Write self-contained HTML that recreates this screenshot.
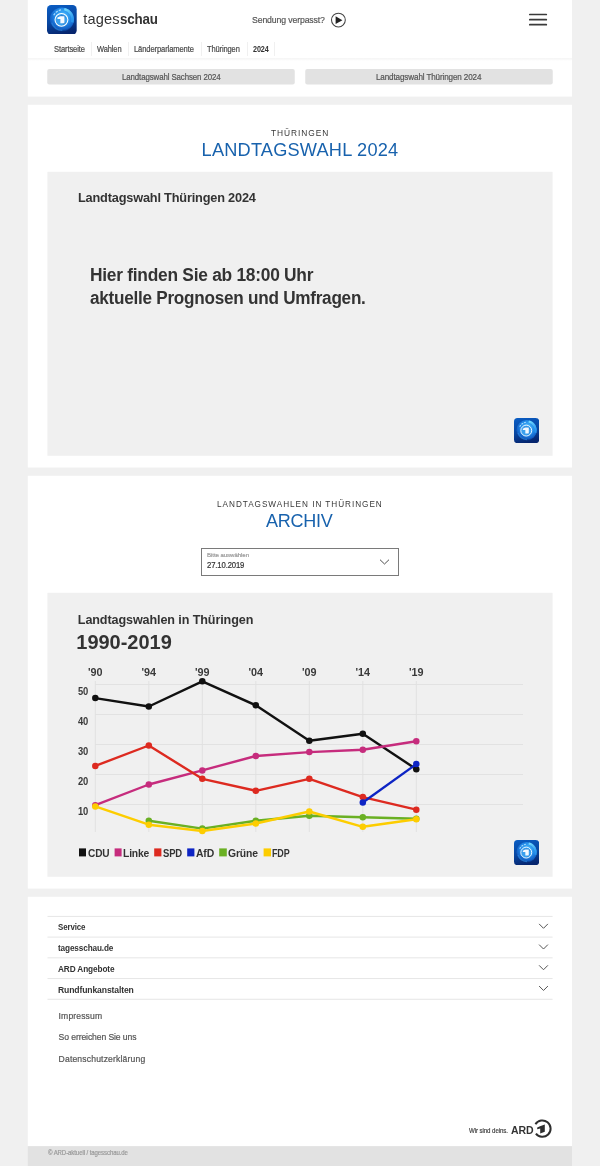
<!DOCTYPE html>
<html><head><meta charset="utf-8"><style>
*{margin:0;padding:0}
html,body{width:600px;height:1166px;overflow:hidden;background:#f0f0f0;font-family:"Liberation Sans",sans-serif}
.card{position:absolute;left:28px;width:544px;background:#fff}
.btn{position:absolute;top:69px;width:247.5px;height:15.6px;background:#e2e2e2;border-radius:2px}
.box{position:absolute;left:47.5px;width:505.1px;height:284px;background:#f0f0f0}
.t{position:absolute;white-space:nowrap;line-height:20px;transform-origin:0 0;font-family:"Liberation Sans",sans-serif}
.t.r{-webkit-text-stroke:0.2px currentColor}
.t i{display:inline-block;width:0;height:0;vertical-align:baseline}
</style></head><body>
<svg style="position:absolute;left:0;top:0" width="600" height="1166" viewBox="0 0 600 1166"><rect x="27.8" y="-1" width="544.2" height="97.6" fill="#fff"/><rect x="27.8" y="104.8" width="544.2" height="362.7" fill="#fff"/><rect x="27.8" y="475.8" width="544.2" height="412.8" fill="#fff"/><rect x="27.8" y="896.8" width="544.2" height="249.4000000000001" fill="#fff"/><rect x="27.8" y="1146.2" width="544.2" height="30" fill="#e2e2e2"/><rect x="47.25" y="69" width="247.5" height="15.6" rx="2" fill="#e2e2e2"/><rect x="305.25" y="69" width="247.5" height="15.6" rx="2" fill="#e2e2e2"/><rect x="47.4" y="171.8" width="505.2" height="284" fill="#f0f0f0"/><rect x="47.4" y="592.8" width="505.2" height="284" fill="#f0f0f0"/></svg>
<svg style="position:absolute;left:47.4px;top:4.8px" width="29.7" height="29.7" viewBox="0 0 30 30">
<defs><linearGradient id="lga" x1="0.2" y1="0" x2="0.45" y2="1"><stop offset="0" stop-color="#0a5cc2"/><stop offset="0.55" stop-color="#0846a0"/><stop offset="1" stop-color="#06256e"/></linearGradient>
<radialGradient id="rga" cx="0.55" cy="0.36" r="0.66"><stop offset="0" stop-color="#4cc0ff"/><stop offset="0.5" stop-color="#238ae8"/><stop offset="0.82" stop-color="#1260c6"/><stop offset="1" stop-color="#0b4fae" stop-opacity="0"/></radialGradient>
<linearGradient id="cga" x1="0" y1="0" x2="0.6" y2="1"><stop offset="0" stop-color="#7fe4ff"/><stop offset="1" stop-color="#2a9af0"/></linearGradient></defs>
<rect x="0" y="0" width="30" height="30" rx="4.2" fill="url(#lga)"/>
<circle cx="15" cy="14.6" r="12.2" fill="url(#rga)"/>
<path d="M17.5 4.2 A10.6 10.6 0 0 1 25.6 17.5" fill="none" stroke="url(#cga)" stroke-width="2.5" opacity="0.9"/>
<path d="M4.8 17.8 A10.6 10.6 0 0 0 15.5 25.6" fill="none" stroke="#3597ea" stroke-width="1.5" opacity="0.5"/>
<path d="M6.8 10.4 A10 10 0 0 1 14.2 5" fill="none" stroke="#b8e6ff" stroke-width="1.3" stroke-dasharray="2.4 1.1" opacity="0.85"/>
<circle cx="14.6" cy="15" r="6.5" fill="#3aa0ee" stroke="#fff" stroke-width="1.05"/>
<path d="M10.8 13.6 A4.6 4.6 0 0 1 18.6 12.6" fill="none" stroke="#0f56b4" stroke-width="1.1" opacity="0.55"/>
<path d="M18.4 17.2 A4.6 4.6 0 0 1 16 19.4" fill="none" stroke="#0f56b4" stroke-width="1.1" opacity="0.5"/>
<path d="M10.5 12.7 L13.1 11.4 L17.6 11.3 L17.6 18.4 L13.5 18.5 L13.5 14.2 L10.5 14.2 Z" fill="#f4f9ff"/>
</svg>
<svg style="position:absolute;left:330px;top:11.5px" width="17" height="17" viewBox="0 0 17 17"><circle cx="8.4" cy="8.1" r="6.9" fill="none" stroke="#444" stroke-width="1.05"/><path d="M5.6 4.3 L12.4 8.2 L5.6 12.1 Z" fill="#222"/></svg>
<svg style="position:absolute;left:528px;top:10px" width="21" height="20" viewBox="0 0 21 20"><g stroke="#3a3a3a" stroke-width="1.7" stroke-linecap="round"><line x1="1.8" y1="4.5" x2="18.3" y2="4.5"/><line x1="1.8" y1="9.7" x2="18.3" y2="9.7"/><line x1="1.8" y1="14.7" x2="18.3" y2="14.7"/></g></svg>
<div style="position:absolute;left:91.1px;top:42px;width:1px;height:13.7px;background:#f0f0f0"></div>
<div style="position:absolute;left:127.9px;top:42px;width:1px;height:13.7px;background:#f0f0f0"></div>
<div style="position:absolute;left:200.7px;top:42px;width:1px;height:13.7px;background:#f0f0f0"></div>
<div style="position:absolute;left:246.6px;top:42px;width:1px;height:13.7px;background:#f0f0f0"></div>
<div style="position:absolute;left:274.3px;top:42px;width:1px;height:13.7px;background:#f0f0f0"></div>
<div style="position:absolute;left:27.8px;top:57.8px;width:544.2px;height:3px;background:linear-gradient(#f5f5f5,#f7f7f7 30%,#fff)"></div>
<svg style="position:absolute;left:514px;top:418.3px" width="25.2" height="25.2" viewBox="0 0 30 30">
<defs><linearGradient id="lgb" x1="0.2" y1="0" x2="0.45" y2="1"><stop offset="0" stop-color="#0a5cc2"/><stop offset="0.55" stop-color="#0846a0"/><stop offset="1" stop-color="#06256e"/></linearGradient>
<radialGradient id="rgb" cx="0.55" cy="0.36" r="0.66"><stop offset="0" stop-color="#4cc0ff"/><stop offset="0.5" stop-color="#238ae8"/><stop offset="0.82" stop-color="#1260c6"/><stop offset="1" stop-color="#0b4fae" stop-opacity="0"/></radialGradient>
<linearGradient id="cgb" x1="0" y1="0" x2="0.6" y2="1"><stop offset="0" stop-color="#7fe4ff"/><stop offset="1" stop-color="#2a9af0"/></linearGradient></defs>
<rect x="0" y="0" width="30" height="30" rx="4.2" fill="url(#lgb)"/>
<circle cx="15" cy="14.6" r="12.2" fill="url(#rgb)"/>
<path d="M17.5 4.2 A10.6 10.6 0 0 1 25.6 17.5" fill="none" stroke="url(#cgb)" stroke-width="2.5" opacity="0.9"/>
<path d="M4.8 17.8 A10.6 10.6 0 0 0 15.5 25.6" fill="none" stroke="#3597ea" stroke-width="1.5" opacity="0.5"/>
<path d="M6.8 10.4 A10 10 0 0 1 14.2 5" fill="none" stroke="#b8e6ff" stroke-width="1.3" stroke-dasharray="2.4 1.1" opacity="0.85"/>
<circle cx="14.6" cy="15" r="6.5" fill="#3aa0ee" stroke="#fff" stroke-width="1.05"/>
<path d="M10.8 13.6 A4.6 4.6 0 0 1 18.6 12.6" fill="none" stroke="#0f56b4" stroke-width="1.1" opacity="0.55"/>
<path d="M18.4 17.2 A4.6 4.6 0 0 1 16 19.4" fill="none" stroke="#0f56b4" stroke-width="1.1" opacity="0.5"/>
<path d="M10.5 12.7 L13.1 11.4 L17.6 11.3 L17.6 18.4 L13.5 18.5 L13.5 14.2 L10.5 14.2 Z" fill="#f4f9ff"/>
</svg>
<div style="position:absolute;left:201px;top:548px;width:198px;height:28px;box-sizing:border-box;border:1px solid #7a7a7a"></div>
<svg style="position:absolute;left:379px;top:557.5px" width="11" height="8" viewBox="0 0 11 8"><path d="M1 1.7 L5.5 6 L10 1.7" fill="none" stroke="#505050" stroke-width="1"/></svg>
<svg style="position:absolute;left:0;top:0" width="600" height="1166" viewBox="0 0 600 1166">
<line x1="95" y1="684.5" x2="523" y2="684.5" stroke="#e2e2e2" stroke-width="1"/>
<line x1="95" y1="714.5" x2="523" y2="714.5" stroke="#e2e2e2" stroke-width="1"/>
<line x1="95" y1="744.5" x2="523" y2="744.5" stroke="#e2e2e2" stroke-width="1"/>
<line x1="95" y1="774.5" x2="523" y2="774.5" stroke="#e2e2e2" stroke-width="1"/>
<line x1="95" y1="804.5" x2="523" y2="804.5" stroke="#e2e2e2" stroke-width="1"/>
<line x1="95.3" y1="681" x2="95.3" y2="832" stroke="#e2e2e2" stroke-width="1"/>
<line x1="148.8" y1="681" x2="148.8" y2="832" stroke="#e2e2e2" stroke-width="1"/>
<line x1="202.3" y1="681" x2="202.3" y2="832" stroke="#e2e2e2" stroke-width="1"/>
<line x1="255.8" y1="681" x2="255.8" y2="832" stroke="#e2e2e2" stroke-width="1"/>
<line x1="309.3" y1="681" x2="309.3" y2="832" stroke="#e2e2e2" stroke-width="1"/>
<line x1="362.8" y1="681" x2="362.8" y2="832" stroke="#e2e2e2" stroke-width="1"/>
<line x1="416.3" y1="681" x2="416.3" y2="832" stroke="#e2e2e2" stroke-width="1"/>
<polyline fill="none" stroke="#111111" stroke-width="2.4" stroke-linejoin="round" points="95.30,698.10 148.80,706.50 202.30,681.30 255.80,705.30 309.30,740.70 362.80,733.80 416.30,769.20"/>
<circle cx="95.30" cy="698.10" r="3.25" fill="#111111"/>
<circle cx="148.80" cy="706.50" r="3.25" fill="#111111"/>
<circle cx="202.30" cy="681.30" r="3.25" fill="#111111"/>
<circle cx="255.80" cy="705.30" r="3.25" fill="#111111"/>
<circle cx="309.30" cy="740.70" r="3.25" fill="#111111"/>
<circle cx="362.80" cy="733.80" r="3.25" fill="#111111"/>
<circle cx="416.30" cy="769.20" r="3.25" fill="#111111"/>
<polyline fill="none" stroke="#c62c7d" stroke-width="2.4" stroke-linejoin="round" points="95.30,805.20 148.80,784.50 202.30,770.40 255.80,756.00 309.30,752.10 362.80,749.70 416.30,741.30"/>
<circle cx="95.30" cy="805.20" r="3.25" fill="#c62c7d"/>
<circle cx="148.80" cy="784.50" r="3.25" fill="#c62c7d"/>
<circle cx="202.30" cy="770.40" r="3.25" fill="#c62c7d"/>
<circle cx="255.80" cy="756.00" r="3.25" fill="#c62c7d"/>
<circle cx="309.30" cy="752.10" r="3.25" fill="#c62c7d"/>
<circle cx="362.80" cy="749.70" r="3.25" fill="#c62c7d"/>
<circle cx="416.30" cy="741.30" r="3.25" fill="#c62c7d"/>
<polyline fill="none" stroke="#dd2a20" stroke-width="2.4" stroke-linejoin="round" points="95.30,765.90 148.80,745.50 202.30,778.80 255.80,790.80 309.30,778.80 362.80,797.10 416.30,809.70"/>
<circle cx="95.30" cy="765.90" r="3.25" fill="#dd2a20"/>
<circle cx="148.80" cy="745.50" r="3.25" fill="#dd2a20"/>
<circle cx="202.30" cy="778.80" r="3.25" fill="#dd2a20"/>
<circle cx="255.80" cy="790.80" r="3.25" fill="#dd2a20"/>
<circle cx="309.30" cy="778.80" r="3.25" fill="#dd2a20"/>
<circle cx="362.80" cy="797.10" r="3.25" fill="#dd2a20"/>
<circle cx="416.30" cy="809.70" r="3.25" fill="#dd2a20"/>
<polyline fill="none" stroke="#0d24c4" stroke-width="2.4" stroke-linejoin="round" points="362.80,802.50 416.30,764.10"/>
<circle cx="362.80" cy="802.50" r="3.25" fill="#0d24c4"/>
<circle cx="416.30" cy="764.10" r="3.25" fill="#0d24c4"/>
<polyline fill="none" stroke="#6ab023" stroke-width="2.4" stroke-linejoin="round" points="148.80,820.80 202.30,828.60 255.80,820.80 309.30,815.70 362.80,817.20 416.30,818.70"/>
<circle cx="148.80" cy="820.80" r="3.25" fill="#6ab023"/>
<circle cx="202.30" cy="828.60" r="3.25" fill="#6ab023"/>
<circle cx="255.80" cy="820.80" r="3.25" fill="#6ab023"/>
<circle cx="309.30" cy="815.70" r="3.25" fill="#6ab023"/>
<circle cx="362.80" cy="817.20" r="3.25" fill="#6ab023"/>
<circle cx="416.30" cy="818.70" r="3.25" fill="#6ab023"/>
<polyline fill="none" stroke="#fdcd00" stroke-width="2.4" stroke-linejoin="round" points="95.30,806.40 148.80,824.70 202.30,831.00 255.80,823.50 309.30,811.50 362.80,826.80 416.30,819.30"/>
<circle cx="95.30" cy="806.40" r="3.25" fill="#fdcd00"/>
<circle cx="148.80" cy="824.70" r="3.25" fill="#fdcd00"/>
<circle cx="202.30" cy="831.00" r="3.25" fill="#fdcd00"/>
<circle cx="255.80" cy="823.50" r="3.25" fill="#fdcd00"/>
<circle cx="309.30" cy="811.50" r="3.25" fill="#fdcd00"/>
<circle cx="362.80" cy="826.80" r="3.25" fill="#fdcd00"/>
<circle cx="416.30" cy="819.30" r="3.25" fill="#fdcd00"/>
<rect x="79" y="848.4" width="7" height="8" fill="#111"/>
<rect x="114.6" y="848.4" width="7.0" height="8" fill="#c62c7d"/>
<rect x="154.2" y="848.4" width="7.200000000000017" height="8" fill="#dd2a20"/>
<rect x="187.2" y="848.4" width="7.200000000000017" height="8" fill="#0d24c4"/>
<rect x="219.2" y="848.4" width="7.600000000000023" height="8" fill="#6ab023"/>
<rect x="263.6" y="848.4" width="7.399999999999977" height="8" fill="#fdcd00"/>
</svg>
<svg style="position:absolute;left:514px;top:839.5px" width="25.2" height="25.2" viewBox="0 0 30 30">
<defs><linearGradient id="lgc" x1="0.2" y1="0" x2="0.45" y2="1"><stop offset="0" stop-color="#0a5cc2"/><stop offset="0.55" stop-color="#0846a0"/><stop offset="1" stop-color="#06256e"/></linearGradient>
<radialGradient id="rgc" cx="0.55" cy="0.36" r="0.66"><stop offset="0" stop-color="#4cc0ff"/><stop offset="0.5" stop-color="#238ae8"/><stop offset="0.82" stop-color="#1260c6"/><stop offset="1" stop-color="#0b4fae" stop-opacity="0"/></radialGradient>
<linearGradient id="cgc" x1="0" y1="0" x2="0.6" y2="1"><stop offset="0" stop-color="#7fe4ff"/><stop offset="1" stop-color="#2a9af0"/></linearGradient></defs>
<rect x="0" y="0" width="30" height="30" rx="4.2" fill="url(#lgc)"/>
<circle cx="15" cy="14.6" r="12.2" fill="url(#rgc)"/>
<path d="M17.5 4.2 A10.6 10.6 0 0 1 25.6 17.5" fill="none" stroke="url(#cgc)" stroke-width="2.5" opacity="0.9"/>
<path d="M4.8 17.8 A10.6 10.6 0 0 0 15.5 25.6" fill="none" stroke="#3597ea" stroke-width="1.5" opacity="0.5"/>
<path d="M6.8 10.4 A10 10 0 0 1 14.2 5" fill="none" stroke="#b8e6ff" stroke-width="1.3" stroke-dasharray="2.4 1.1" opacity="0.85"/>
<circle cx="14.6" cy="15" r="6.5" fill="#3aa0ee" stroke="#fff" stroke-width="1.05"/>
<path d="M10.8 13.6 A4.6 4.6 0 0 1 18.6 12.6" fill="none" stroke="#0f56b4" stroke-width="1.1" opacity="0.55"/>
<path d="M18.4 17.2 A4.6 4.6 0 0 1 16 19.4" fill="none" stroke="#0f56b4" stroke-width="1.1" opacity="0.5"/>
<path d="M10.5 12.7 L13.1 11.4 L17.6 11.3 L17.6 18.4 L13.5 18.5 L13.5 14.2 L10.5 14.2 Z" fill="#f4f9ff"/>
</svg>
<svg style="position:absolute;left:0;top:0" width="600" height="1166" viewBox="0 0 600 1166"><line x1="47.5" y1="916.40" x2="552.6" y2="916.40" stroke="#e6e6e6" stroke-width="1"/><line x1="47.5" y1="937.12" x2="552.6" y2="937.12" stroke="#e6e6e6" stroke-width="1"/><line x1="47.5" y1="957.84" x2="552.6" y2="957.84" stroke="#e6e6e6" stroke-width="1"/><line x1="47.5" y1="978.56" x2="552.6" y2="978.56" stroke="#e6e6e6" stroke-width="1"/><line x1="47.5" y1="999.28" x2="552.6" y2="999.28" stroke="#e6e6e6" stroke-width="1"/><path d="M539.1 923.90 L543.5 928.30 L547.9 923.90" fill="none" stroke="#555" stroke-width="1"/><path d="M539.1 944.62 L543.5 949.02 L547.9 944.62" fill="none" stroke="#555" stroke-width="1"/><path d="M539.1 965.34 L543.5 969.74 L547.9 965.34" fill="none" stroke="#555" stroke-width="1"/><path d="M539.1 986.06 L543.5 990.46 L547.9 986.06" fill="none" stroke="#555" stroke-width="1"/></svg>
<svg style="position:absolute;left:532px;top:1118px" width="22" height="22" viewBox="0 0 22 22">
<path d="M3.45 6.25 A8.2 8.2 0 1 1 3.9 15.6" fill="none" stroke="#2e2e2e" stroke-width="2"/>
<path d="M5.2 9.6 L8 8.2 L12.8 6.6 L12.8 13.8 L8.2 15.6 L8.2 10.6 L5.2 11.2 Z" fill="#2e2e2e"/>
</svg>
<div id="tx" style="position:absolute;left:0;top:0;width:600px;height:1166px;will-change:transform">
<div class="t" id="t0" style="left:83.30px;top:9.30px;font-size:14.6px;font-weight:400;color:#333;letter-spacing:0.149px">tages</div>
<div class="t" id="t1" style="left:120.00px;top:9.30px;font-size:14.6px;font-weight:700;color:#333;letter-spacing:-0.219px;transform:scaleX(0.9161)">schau</div>
<div class="t r" id="t2" style="left:252.40px;top:10.41px;font-size:9.8px;font-weight:400;color:#555;letter-spacing:-0.147px;transform:scaleX(0.8884)">Sendung verpasst?</div>
<div class="t r" id="t3" style="left:53.60px;top:39.61px;font-size:8.2px;font-weight:400;color:#4a4a4a;letter-spacing:-0.123px;transform:scaleX(0.9256)">Startseite</div>
<div class="t r" id="t4" style="left:97.00px;top:39.61px;font-size:8.2px;font-weight:400;color:#4a4a4a;letter-spacing:-0.123px;transform:scaleX(0.9162)">Wahlen</div>
<div class="t r" id="t5" style="left:134.40px;top:39.61px;font-size:8.2px;font-weight:400;color:#4a4a4a;letter-spacing:-0.123px;transform:scaleX(0.9269)">Länderparlamente</div>
<div class="t r" id="t6" style="left:207.00px;top:39.61px;font-size:8.2px;font-weight:400;color:#4a4a4a;letter-spacing:-0.123px;transform:scaleX(0.9138)">Thüringen</div>
<div class="t" id="t7" style="left:252.70px;top:39.61px;font-size:8.2px;font-weight:700;color:#333;letter-spacing:-0.123px;transform:scaleX(0.8802)">2024</div>
<div class="t r" id="t8" style="left:121.60px;top:66.61px;font-size:8.6px;font-weight:400;color:#555;letter-spacing:-0.129px;transform:scaleX(0.9191)">Landtagswahl Sachsen 2024</div>
<div class="t r" id="t9" style="left:375.60px;top:66.61px;font-size:8.6px;font-weight:400;color:#555;letter-spacing:-0.129px;transform:scaleX(0.9405)">Landtagswahl Thüringen 2024</div>
<div class="t" id="t10" style="left:270.90px;top:122.61px;font-size:8.4px;font-weight:400;color:#383838;letter-spacing:0.958px">THÜRINGEN</div>
<div class="t" id="t11" style="left:201.60px;top:139.91px;font-size:18.2px;font-weight:400;color:#1862ad;letter-spacing:0.197px">LANDTAGSWAHL 2024</div>
<div class="t" id="t12" style="left:77.50px;top:187.80px;font-size:12.8px;font-weight:700;color:#333;letter-spacing:-0.192px;transform:scaleX(0.9970)">Landtagswahl Thüringen 2024</div>
<div class="t" id="t13" style="left:90.01px;top:264.61px;font-size:17.6px;font-weight:700;color:#333;letter-spacing:-0.264px;transform:scaleX(0.9863)">Hier finden Sie ab 18:00 Uhr</div>
<div class="t" id="t14" style="left:90.00px;top:287.61px;font-size:17.6px;font-weight:700;color:#333;letter-spacing:-0.264px;transform:scaleX(0.9743)">aktuelle Prognosen und Umfragen.</div>
<div class="t" id="t15" style="left:217.10px;top:494.71px;font-size:8.2px;font-weight:400;color:#383838;letter-spacing:0.968px">LANDTAGSWAHLEN IN THÜRINGEN</div>
<div class="t" id="t16" style="left:266.40px;top:510.71px;font-size:18.2px;font-weight:400;color:#1862ad;letter-spacing:-0.273px;transform:scaleX(0.9909)">ARCHIV</div>
<div class="t r" id="t17" style="left:207.20px;top:544.80px;font-size:6.2px;font-weight:400;color:#999;letter-spacing:-0.093px;transform:scaleX(0.9921)">Bitte auswählen</div>
<div class="t r" id="t18" style="left:207.20px;top:556.21px;font-size:8.2px;font-weight:400;color:#333;letter-spacing:-0.123px;transform:scaleX(0.9376)">27.10.2019</div>
<div class="t" id="t19" style="left:77.80px;top:609.80px;font-size:12.6px;font-weight:700;color:#333;letter-spacing:-0.109px">Landtagswahlen in Thüringen</div>
<div class="t" id="t20" style="left:76.30px;top:631.80px;font-size:20.0px;font-weight:700;color:#333;letter-spacing:-0.015px">1990-2019</div>
<div class="t" id="t21" style="left:88.01px;top:662.00px;font-size:10.8px;font-weight:700;color:#3a3a3a;letter-spacing:0.000px">'90</div>
<div class="t" id="t22" style="left:141.51px;top:662.00px;font-size:10.8px;font-weight:700;color:#3a3a3a;letter-spacing:0.000px">'94</div>
<div class="t" id="t23" style="left:195.01px;top:662.00px;font-size:10.8px;font-weight:700;color:#3a3a3a;letter-spacing:0.000px">'99</div>
<div class="t" id="t24" style="left:248.51px;top:662.00px;font-size:10.8px;font-weight:700;color:#3a3a3a;letter-spacing:0.000px">'04</div>
<div class="t" id="t25" style="left:302.01px;top:662.00px;font-size:10.8px;font-weight:700;color:#3a3a3a;letter-spacing:0.000px">'09</div>
<div class="t" id="t26" style="left:355.51px;top:662.00px;font-size:10.8px;font-weight:700;color:#3a3a3a;letter-spacing:0.000px">'14</div>
<div class="t" id="t27" style="left:409.01px;top:662.00px;font-size:10.8px;font-weight:700;color:#3a3a3a;letter-spacing:0.000px">'19</div>
<div class="t" id="t28" style="left:77.70px;top:682.30px;font-size:10.2px;font-weight:700;color:#3a3a3a;letter-spacing:-0.153px;transform:scaleX(0.9207)">50</div>
<div class="t" id="t29" style="left:77.70px;top:712.30px;font-size:10.2px;font-weight:700;color:#3a3a3a;letter-spacing:-0.153px;transform:scaleX(0.9207)">40</div>
<div class="t" id="t30" style="left:77.70px;top:742.30px;font-size:10.2px;font-weight:700;color:#3a3a3a;letter-spacing:-0.153px;transform:scaleX(0.9207)">30</div>
<div class="t" id="t31" style="left:77.70px;top:772.30px;font-size:10.2px;font-weight:700;color:#3a3a3a;letter-spacing:-0.153px;transform:scaleX(0.9207)">20</div>
<div class="t" id="t32" style="left:77.70px;top:802.30px;font-size:10.2px;font-weight:700;color:#3a3a3a;letter-spacing:-0.153px;transform:scaleX(0.9207)">10</div>
<div class="t" id="t33" style="left:87.60px;top:842.61px;font-size:11.4px;font-weight:700;color:#333;letter-spacing:-0.171px;transform:scaleX(0.8876)">CDU</div>
<div class="t" id="t34" style="left:123.00px;top:842.61px;font-size:11.4px;font-weight:700;color:#333;letter-spacing:-0.171px;transform:scaleX(0.9049)">Linke</div>
<div class="t" id="t35" style="left:163.00px;top:842.61px;font-size:11.4px;font-weight:700;color:#333;letter-spacing:-0.171px;transform:scaleX(0.8314)">SPD</div>
<div class="t" id="t36" style="left:196.00px;top:842.61px;font-size:11.4px;font-weight:700;color:#333;letter-spacing:-0.171px;transform:scaleX(0.9148)">AfD</div>
<div class="t" id="t37" style="left:228.40px;top:842.61px;font-size:11.4px;font-weight:700;color:#333;letter-spacing:-0.171px;transform:scaleX(0.9101)">Grüne</div>
<div class="t" id="t38" style="left:272.40px;top:842.61px;font-size:11.4px;font-weight:700;color:#333;letter-spacing:-0.171px;transform:scaleX(0.7880)">FDP</div>
<div class="t" id="t39" style="left:57.60px;top:917.41px;font-size:9.0px;font-weight:700;color:#333;letter-spacing:-0.135px;transform:scaleX(0.8779)">Service</div>
<div class="t" id="t40" style="left:57.60px;top:938.21px;font-size:9.0px;font-weight:700;color:#333;letter-spacing:-0.135px;transform:scaleX(0.9097)">tagesschau.de</div>
<div class="t" id="t41" style="left:57.60px;top:959.00px;font-size:9.0px;font-weight:700;color:#333;letter-spacing:-0.135px;transform:scaleX(0.9160)">ARD Angebote</div>
<div class="t" id="t42" style="left:57.60px;top:979.61px;font-size:9.0px;font-weight:700;color:#333;letter-spacing:-0.135px;transform:scaleX(0.9563)">Rundfunkanstalten</div>
<div class="t r" id="t43" style="left:58.60px;top:1005.71px;font-size:8.6px;font-weight:400;color:#555;letter-spacing:0.120px">Impressum</div>
<div class="t r" id="t44" style="left:58.60px;top:1027.11px;font-size:8.6px;font-weight:400;color:#555;letter-spacing:-0.099px">So erreichen Sie uns</div>
<div class="t r" id="t45" style="left:58.60px;top:1048.80px;font-size:8.6px;font-weight:400;color:#555;letter-spacing:0.157px">Datenschutzerklärung</div>
<div class="t r" id="t46" style="left:468.80px;top:1121.30px;font-size:7.2px;font-weight:400;color:#444;letter-spacing:-0.108px;transform:scaleX(0.8548)">Wir sind deins.</div>
<div class="t" id="t47" style="left:510.60px;top:1119.50px;font-size:11.8px;font-weight:700;color:#333;letter-spacing:-0.177px;transform:scaleX(0.8916)">ARD</div>
<div class="t r" id="t48" style="left:47.50px;top:1143.30px;font-size:6.8px;font-weight:400;color:#999;letter-spacing:-0.102px;transform:scaleX(0.8905)">© ARD-aktuell / tagesschau.de</div>
</div>
</body></html>
